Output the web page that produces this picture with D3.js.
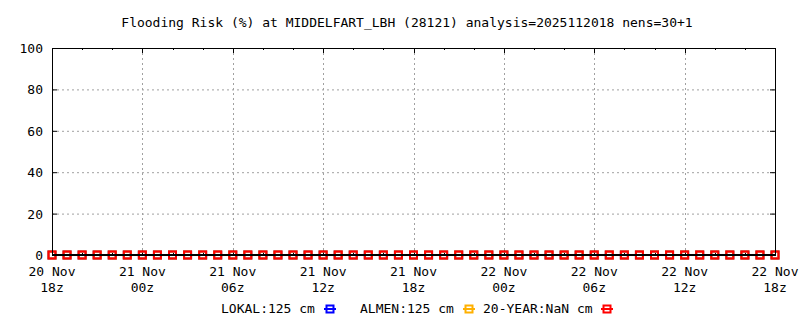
<!DOCTYPE html>
<html>
<head>
<meta charset="utf-8">
<script src="https://cdn.jsdelivr.net/npm/d3@7"></script>
<style>
  body { margin: 0; background: #fff; }
  text { font-family: "DejaVu Sans Mono", "Liberation Mono", monospace; font-size: 13px; fill: #000; }
</style>
</head>
<body>
<svg width="800" height="320"></svg>
<script>
// hours after analysis time (2025-11-20 18z)
const hours = [0, 1, 2, 3, 4, 5, 6, 7, 8, 9, 10, 11, 12, 13, 14, 15, 16, 17, 18, 19, 20, 21, 22, 23, 24,
               25, 26, 27, 28, 29, 30, 31, 32, 33, 34, 35, 36, 37, 38, 39, 40, 41, 42, 43, 44, 45, 46, 47, 48];
const lokal = [0, 0, 0, 0, 0, 0, 0, 0, 0, 0, 0, 0, 0, 0, 0, 0, 0, 0, 0, 0, 0, 0, 0, 0, 0,
               0, 0, 0, 0, 0, 0, 0, 0, 0, 0, 0, 0, 0, 0, 0, 0, 0, 0, 0, 0, 0, 0, 0, 0];
const almen = [0, 0, 0, 0, 0, 0, 0, 0, 0, 0, 0, 0, 0, 0, 0, 0, 0, 0, 0, 0, 0, 0, 0, 0, 0,
               0, 0, 0, 0, 0, 0, 0, 0, 0, 0, 0, 0, 0, 0, 0, 0, 0, 0, 0, 0, 0, 0, 0, 0];
const year20 = [0, 0, 0, 0, 0, 0, 0, 0, 0, 0, 0, 0, 0, 0, 0, 0, 0, 0, 0, 0, 0, 0, 0, 0, 0,
                0, 0, 0, 0, 0, 0, 0, 0, 0, 0, 0, 0, 0, 0, 0, 0, 0, 0, 0, 0, 0, 0, 0, 0];
const xTicks = [0, 6, 12, 18, 24, 30, 36, 42, 48];
const xTickDays = ["20 Nov", "21 Nov", "21 Nov", "21 Nov", "21 Nov", "22 Nov", "22 Nov", "22 Nov", "22 Nov"];
const xTickHours = ["18z", "00z", "06z", "12z", "18z", "00z", "06z", "12z", "18z"];
const yTicks = [0, 20, 40, 60, 80, 100];
const seriesNames = ["LOKAL:125 cm", "ALMEN:125 cm", "20-YEAR:NaN cm"];
const seriesColors = ["#0000ff", "#ffb000", "#ff0000"];

const svg = d3.select("svg");
const pLeft = 52, pRight = 775, pTop = 48, pBottom = 255;
const x = d3.scaleLinear().domain([0, 48]).range([pLeft, pRight]);
const y = d3.scaleLinear().domain([0, 100]).range([pBottom, pTop]);

svg.append("text")
    .attr("x", 407)
    .attr("y", 27)
    .attr("text-anchor", "middle")
    .text("Flooding Risk (%) at MIDDELFART_LBH (28121) analysis=2025112018 nens=30+1");

// grid
svg.append("g").selectAll("line")
    .data(yTicks.filter(d => d > 0 && d < 100)).enter()
    .append("line")
    .attr("x1", pLeft).attr("x2", pRight)
    .attr("y1", d => y(d) + 0.5).attr("y2", d => y(d) + 0.5)
    .attr("stroke", "#a0a0a0").attr("stroke-dasharray", "2,3");
svg.append("g").selectAll("line")
    .data(xTicks.filter(d => d > 0 && d < 48)).enter()
    .append("line")
    .attr("x1", d => Math.round(x(d)) + 0.5).attr("x2", d => Math.round(x(d)) + 0.5)
    .attr("y1", pTop).attr("y2", pBottom)
    .attr("stroke", "#a0a0a0").attr("stroke-dasharray", "2,3");

// tick marks
const tk = svg.append("g").attr("stroke", "#000");
yTicks.forEach(d => {
    tk.append("line").attr("x1", pLeft).attr("x2", pLeft + 5).attr("y1", y(d) + 0.5).attr("y2", y(d) + 0.5);
    tk.append("line").attr("x1", pRight - 5).attr("x2", pRight).attr("y1", y(d) + 0.5).attr("y2", y(d) + 0.5);
});
d3.range(0, 49, 2).forEach(h => {
    const len = h % 6 === 0 ? 5 : 2;
    tk.append("line").attr("x1", Math.round(x(h)) + 0.5).attr("x2", Math.round(x(h)) + 0.5)
        .attr("y1", pTop).attr("y2", pTop + len);
    tk.append("line").attr("x1", Math.round(x(h)) + 0.5).attr("x2", Math.round(x(h)) + 0.5)
        .attr("y1", pBottom).attr("y2", pBottom - len);
});

// y labels
svg.append("g").selectAll("text")
    .data(yTicks).enter()
    .append("text")
    .attr("x", 43)
    .attr("y", d => y(d) + 5)
    .attr("text-anchor", "end")
    .text(d => d);

// x labels
const xl = svg.append("g").selectAll("g").data(xTicks).enter().append("g");
xl.append("text")
    .attr("x", d => x(d)).attr("y", 276)
    .attr("text-anchor", "middle")
    .text((d, i) => xTickDays[i]);
xl.append("text")
    .attr("x", d => x(d)).attr("y", 292)
    .attr("text-anchor", "middle")
    .text((d, i) => xTickHours[i]);

// series
const line = d3.line().x((d, i) => x(hours[i])).y(d => y(d));
[lokal, almen, year20].forEach((vals, k) => {
    svg.append("path")
        .datum(vals)
        .attr("d", line)
        .attr("fill", "none")
        .attr("stroke", seriesColors[k])
        .attr("stroke-width", 2);
    svg.append("g").selectAll("rect")
        .data(vals).enter()
        .append("rect")
        .attr("x", (d, i) => x(hours[i]) - 3.5)
        .attr("y", d => y(d) - 3.5)
        .attr("width", 7).attr("height", 7)
        .attr("fill", "none")
        .attr("stroke", seriesColors[k])
        .attr("stroke-width", 2);
});

// frame on top
svg.append("rect")
    .attr("x", pLeft + 0.5).attr("y", pTop + 0.5)
    .attr("width", pRight - pLeft).attr("height", pBottom - pTop)
    .attr("fill", "none").attr("stroke", "#000");
svg.append("line")
    .attr("x1", pLeft).attr("x2", pRight)
    .attr("y1", pBottom).attr("y2", pBottom)
    .attr("stroke", "#000").attr("stroke-width", 2);

// legend
const legendX = [221, 360, 483];
const legendKey = [330, 469, 607];
seriesNames.forEach((name, k) => {
    svg.append("text").attr("x", legendX[k]).attr("y", 313).text(name);
    svg.append("line")
        .attr("x1", legendKey[k] - 6).attr("x2", legendKey[k] + 6)
        .attr("y1", 309).attr("y2", 309)
        .attr("stroke", seriesColors[k]).attr("stroke-width", 2);
    svg.append("rect")
        .attr("x", legendKey[k] - 3.5).attr("y", 305.5)
        .attr("width", 7).attr("height", 7)
        .attr("fill", "none")
        .attr("stroke", seriesColors[k]).attr("stroke-width", 2);
});
</script>
</body>
</html>
